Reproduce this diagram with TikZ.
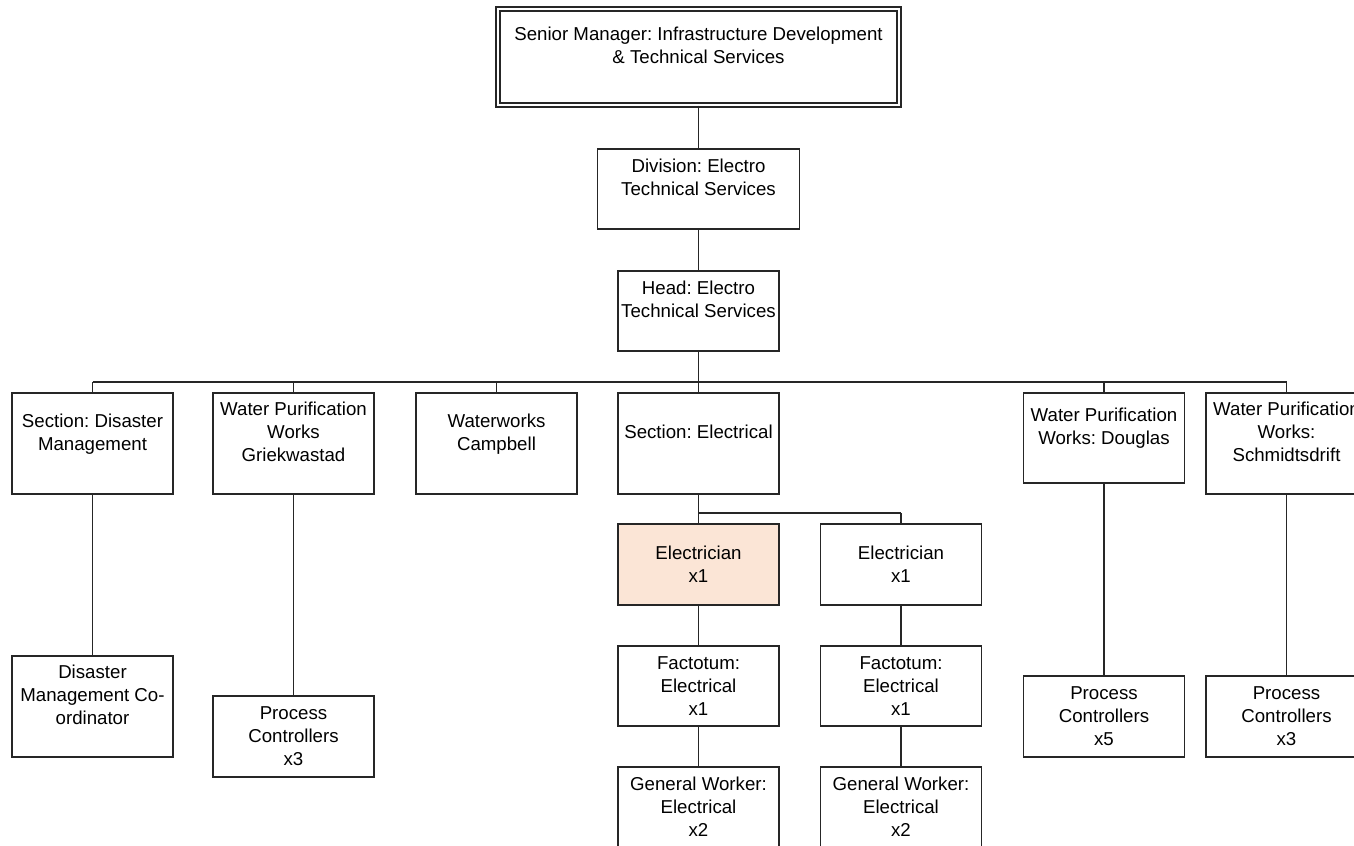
\documentclass[tikz,border=0pt]{standalone}
\usepackage{fontspec}
\setmainfont{Liberation Sans}
\frenchspacing
\definecolor{linec}{HTML}{262626}
\definecolor{peach}{HTML}{FBE5D6}
\begin{document}
\begin{tikzpicture}[x=0.75pt,y=-0.75pt,
  box/.style={draw=linec, line width=1pt, inner sep=0pt, align=center,
    font=\fontsize{14}{17.25}\selectfont, text=black, fill=white},
  sz/.style 2 args={minimum width=#1*0.75pt, minimum height=#2*0.75pt},
  wire/.style={draw=linec, line width=1pt}]
\clip (0,0) rectangle (1354,846);
\fill[white] (0,0) rectangle (1354,846);

% management chain
\node[box, double, double distance=2pt, sz={401}{96}] (sm) at (698.5,57)
  {Senior Manager: Infrastructure Development\\\& Technical Services\\\mbox{}};
\node[box, sz={202}{80}] (div) at (698.5,189) {Division: Electro\\Technical Services\\\mbox{}};
\node[box, sz={161}{80}] (head) at (698.5,311) {Head: Electro\\Technical Services\\\mbox{}};

% sections
\node[box, sz={161}{101}] (sdm) at (92.5,443.5) {Section: Disaster\\Management\\\mbox{}};
\node[box, sz={161}{101}] (wpg) at (293.5,443.5) {Water Purification\\Works\\Griekwastad\\\mbox{}};
\node[box, sz={161}{101}] (wwc) at (496.5,443.5) {Waterworks\\Campbell\\\mbox{}};
\node[box, sz={161}{101}] (sel) at (698.5,443.5) {Section: Electrical\\\mbox{}};
\node[box, sz={161}{90}] (wpd) at (1104,438) {Water Purification\\Works: Douglas\\\mbox{}};
\node[box, sz={161}{101}] (wps) at (1286.5,443.5) {Water Purification\\Works:\\Schmidtsdrift\\\mbox{}};

% electrical staff
\node[box, sz={161}{81}, fill=peach] (el1) at (698.5,564.5) {Electrician\\x1};
\node[box, sz={161}{81}] (el2) at (901,564.5) {Electrician\\x1};
\node[box, sz={161}{80}] (fa1) at (698.5,686) {Factotum:\\Electrical\\x1};
\node[box, sz={161}{80}] (fa2) at (901,686) {Factotum:\\Electrical\\x1};
\node[box, sz={161}{80}] (gw1) at (698.5,807) {General Worker:\\Electrical\\x2};
\node[box, sz={161}{80}] (gw2) at (901,807) {General Worker:\\Electrical\\x2};

% other staff
\node[box, sz={161}{101}] (dmc) at (92.5,706.5) {Disaster\\Management Co-\\ordinator\\\mbox{}};
\node[box, sz={161}{81}] (pcg) at (293.5,736.5) {Process\\Controllers\\x3};
\node[box, sz={161}{81}] (pc5) at (1104,716.5) {Process\\Controllers\\x5};
\node[box, sz={161}{81}] (pc3) at (1286.5,716.5) {Process\\Controllers\\x3};

% connectors
\coordinate (bus) at (0,382);
\coordinate (ebus) at (0,513);
\draw[wire] (sm.south) -- (div.north);
\draw[wire] (div.south) -- (head.north);
\draw[wire] (head.south) -- (head.south |- bus);
\draw[wire] (sdm.north |- bus) -- (wps.north |- bus);
\foreach \c in {sdm,wpg,wwc,sel,wpd,wps}
  \draw[wire] (\c.north) -- (\c.north |- bus);
\draw[wire] (sel.south) -- (sel.south |- ebus);
\draw[wire] (el1.north |- ebus) -- (el2.north |- ebus);
\draw[wire] (el1.north) -- (el1.north |- ebus);
\draw[wire] (el2.north) -- (el2.north |- ebus);
\draw[wire] (el1.south) -- (fa1.north);
\draw[wire] (el2.south) -- (fa2.north);
\draw[wire] (fa1.south) -- (gw1.north);
\draw[wire] (fa2.south) -- (gw2.north);
\draw[wire] (sdm.south) -- (dmc.north);
\draw[wire] (wpg.south) -- (pcg.north);
\draw[wire] (wpd.south) -- (pc5.north);
\draw[wire] (wps.south) -- (pc3.north);
\end{tikzpicture}
\end{document}
